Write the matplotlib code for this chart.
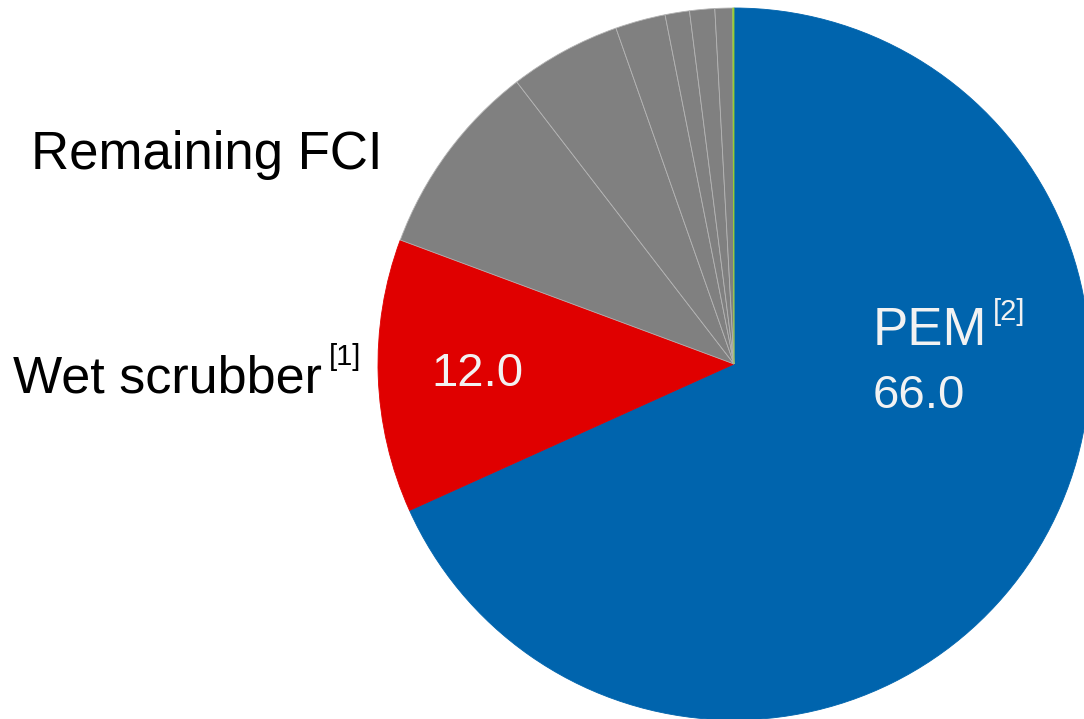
import matplotlib
matplotlib.use("Agg")
import matplotlib.pyplot as plt

plt.rcParams['font.family'] = ['Liberation Sans', 'DejaVu Sans']

# share of each emission source, clockwise from the top
labels = ['PEM', 'Wet scrubber', 'FCI 1', 'FCI 2', 'FCI 3', 'FCI 4', 'FCI 5', 'FCI 6', 'Other']
values = [66.0, 12.0, 8.6, 4.9, 2.2, 1.07, 1.1, 0.78, 0.05]
colors = ['#0064ad', '#e00000', '#808080', '#808080', '#808080',
          '#808080', '#808080', '#808080', '#9acd32']

fig = plt.figure(figsize=(10.84, 7.19), dpi=100)
ax = fig.add_axes([0, 0, 1, 1])

wedges, _ = ax.pie(values, colors=colors, startangle=90, counterclock=False,
                   radius=1, wedgeprops=dict(edgecolor='#b4b4b4', linewidth=0.6))
# no separator lines on the two big slices
for w, c in zip(wedges[:2], colors[:2]):
    w.set_edgecolor(c)
wedges[-1].set_edgecolor(colors[-1])

# 1 data unit = 356 px, pie centre at (734, 364) px
ax.set_xlim(-734 / 356, (1084 - 734) / 356)
ax.set_ylim(-(719 - 364) / 356, 364 / 356)
ax.set_aspect('auto')
ax.axis('off')

txt = '#f2f2f2'
ax.text(-0.986, 0.548, 'Remaining FCI', fontsize=38, ha='right', va='baseline')
ax.text(-2.025, -0.079, 'Wet scrubber', fontsize=37.5, ha='left', va='baseline')
ax.text(-1.138, 0.060, '[1]', fontsize=21, ha='left', va='top')
ax.text(-0.722, -0.062, f'{values[1]:.1f}', fontsize=34, color=txt, ha='center', va='baseline')

ax.text(0.390, 0.053, 'PEM', fontsize=38, color=txt, ha='left', va='baseline')
ax.text(0.7275, 0.185, '[2]', fontsize=21, color=txt, ha='left', va='top')
ax.text(0.520, -0.124, f'{values[0]:.1f}', fontsize=34, color=txt, ha='center', va='baseline')

fig.savefig('out.png', dpi=100)
